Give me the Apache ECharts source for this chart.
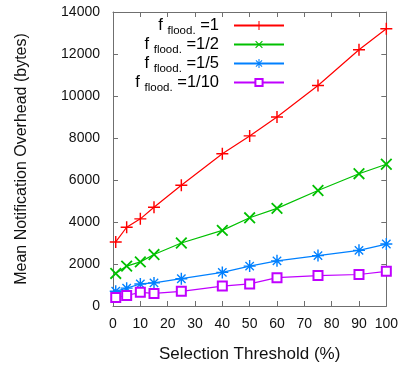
<!DOCTYPE html>
<html>
<head>
<meta charset="utf-8">
<script src="https://cdn.jsdelivr.net/npm/echarts@6/dist/echarts.min.js"></script>
<style>
  html, body { margin: 0; padding: 0; background: #fff; }
  #chart { width: 401px; height: 368px; }
</style>
</head>
<body>
<div id="chart"></div>
<script>
// Selection threshold (%) sampled on the x axis
const thresholds = [1, 5, 10, 15, 25, 40, 50, 60, 75, 90, 100];

// Mean notification overhead (bytes) for each flooding fraction
const overheadFull   = [3050, 3750, 4150, 4700, 5750, 7250, 8100, 9000, 10500, 12200, 13200];
const overheadHalf   = [1550, 1900, 2100, 2450, 3000, 3600, 4200, 4650, 5500, 6300, 6750];
const overheadFifth  = [700, 850, 1050, 1100, 1300, 1600, 1900, 2150, 2400, 2650, 2950];
const overheadTenth  = [400, 500, 650, 600, 700, 950, 1050, 1350, 1450, 1500, 1650];

// Legend fraction labels
const fractions = ['1', '1/2', '1/5', '1/10'];

const FONT = 'Liberation Sans, Arial, sans-serif';
const PLUS = 'path://M-0.6,-5H0.6V-0.6H5V0.6H0.6V5H-0.6V0.6H-5V-0.6H-0.6Z';
const STAR = 'path://M-0.6,-5H0.6V-0.6H5V0.6H0.6V5H-0.6V0.6H-5V-0.6H-0.6Z' +
             'M-3.9,-3.1L-3.1,-3.9L0,-0.8L3.1,-3.9L3.9,-3.1L0.8,0L3.9,3.1L3.1,3.9L0,0.8L-3.1,3.9L-3.9,3.1L-0.8,0Z';

function pairs(ys) { return thresholds.map((x, i) => [x, ys[i]]); }

const seriesDefs = [
  { name: 'f1',  color: '#ff0000', data: overheadFull,  symbol: PLUS, size: 12, rot: 0,  legendSize: 11 },
  { name: 'f2',  color: '#00c000', data: overheadHalf,  symbol: PLUS, size: 15, rot: 45, legendSize: 12 },
  { name: 'f5',  color: '#0080ff', data: overheadFifth, symbol: STAR, size: 12, rot: 0,  legendSize: 11 },
  { name: 'f10', color: '#c000ff', data: overheadTenth, symbol: 'emptyRect', size: 9, rot: 0, legendSize: 9 }
];

const legendRows = [17, 36, 55, 74];

const richLegend = {
  f: { fontSize: 16.5, fontFamily: FONT, color: '#000' },
  s: { fontSize: 11.5, fontFamily: FONT, color: '#000', padding: [10, 0, 0, 0] },
  e: { fontSize: 16.5, fontFamily: FONT, color: '#000' }
};

const AXIS_GRAY = '#6f6f6f';

const axisCommon = {
  min: 0,
  axisLine: { show: true, onZero: false, lineStyle: { color: AXIS_GRAY, width: 1 } },
  axisTick: { show: true, inside: true, length: 5, lineStyle: { color: AXIS_GRAY } },
  splitLine: { show: false },
  axisLabel: { color: '#111', fontSize: 14, fontFamily: FONT }
};

const option = {
  animation: false,
  backgroundColor: '#fff',
  grid: { left: 113, right: 14, top: 12, bottom: 62, containLabel: false },
  legend: seriesDefs.map((s, i) => ({
    data: [s.name],
    orient: 'horizontal',
    align: 'right',
    padding: 0,
    right: 116,
    top: legendRows[i],
    itemWidth: 50,
    itemHeight: s.legendSize,
    symbolRotate: 'inherit',
    itemStyle: s.symbol === 'emptyRect' ? { borderWidth: 1.2 } : {},
    formatter: () => '{f|f }{s|flood.}{e| =' + fractions[i] + '}',
    textStyle: { rich: richLegend, padding: [0, 10, 0, 0] }
  })),
  xAxis: [
    Object.assign({}, axisCommon, {
      type: 'value', max: 100, interval: 10, position: 'bottom',
      axisLabel: Object.assign({}, axisCommon.axisLabel, { margin: 11 }),
      name: 'Selection Threshold (%)', nameLocation: 'middle', nameGap: 40,
      nameTextStyle: { color: '#111', fontSize: 17, fontFamily: FONT }
    }),
    Object.assign({}, axisCommon, {
      type: 'value', max: 100, interval: 10, position: 'top',
      axisLabel: { show: false }
    })
  ],
  yAxis: [
    Object.assign({}, axisCommon, {
      type: 'value', max: 14000, interval: 2000, position: 'left',
      axisLabel: Object.assign({}, axisCommon.axisLabel, { margin: 13, formatter: v => String(v) }),
      name: 'Mean Notification Overhead (bytes)', nameLocation: 'middle', nameGap: 83,
      nameTextStyle: { color: '#111', fontSize: 16, fontFamily: FONT }
    }),
    Object.assign({}, axisCommon, {
      type: 'value', max: 14000, interval: 2000, position: 'right',
      axisLabel: { show: false }
    })
  ],
  series: seriesDefs.map(s => ({
    name: s.name,
    type: 'line',
    data: pairs(s.data),
    symbol: s.symbol,
    symbolSize: s.size,
    symbolRotate: s.rot,
    showAllSymbol: true,
    lineStyle: { color: s.color, width: 1.2 },
    itemStyle: s.symbol === 'emptyRect'
      ? { color: s.color, borderColor: s.color, borderWidth: 1.3 }
      : { color: s.color },
    emphasis: { disabled: true }
  }))
};

const chart = echarts.init(document.getElementById('chart'), null, { renderer: 'canvas' });
chart.setOption(option);
</script>
</body>
</html>
